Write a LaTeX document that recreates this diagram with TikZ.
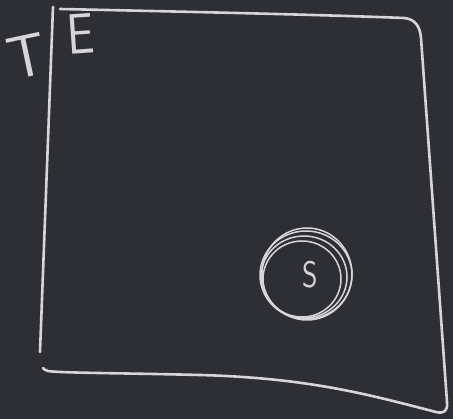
\documentclass[tikz,border=0pt]{standalone}
\definecolor{board}{RGB}{46,47,52}
\definecolor{chalkc}{RGB}{214,214,218}
\begin{document}
\begin{tikzpicture}[x=1pt,y=-1pt,
  chalk/.style={draw=chalkc, line width=2.6pt, line cap=round, line join=round},
  loop/.style={draw=chalkc, line width=1.5pt},
  chalktext/.style={text=chalkc, inner sep=0pt}]
\fill[board] (0,0) rectangle (453,419);
\useasboundingbox (0,0) rectangle (453,419);
% separator line
\coordinate (sepTop) at (53,7);
\coordinate (sepBot) at (40,352);
\draw[chalk] (sepTop) -- (sepBot);
% frame
\coordinate (tl) at (60,9);
\coordinate (tr) at (421,38);
\coordinate (br) at (447,402);
\coordinate (bl) at (43,368);
\draw[chalk] (tl) .. controls (200,12) and (330,15) .. (404,18)
  .. controls (414,19) and (420,25) .. (tr)
  -- (br) .. controls (448,411) and (444,414) .. (436,412)
  .. controls (370,395) and (310,378) .. (200,375)
  .. controls (120,373) and (60,373) .. (48,371)
  .. controls (45,370) and (43,369) .. (bl);
% letters
\node[chalktext, rotate=12, font=\fontfamily{lmss}\fontseries{m}\fontsize{60}{60}\selectfont] (T) at (27,56) {T};
\node[chalktext, rotate=4, xscale=0.85, font=\fontfamily{lmss}\fontseries{m}\fontsize{57}{57}\selectfont] (E) at (81,34) {E};
% circled S
\node[chalktext, xscale=0.8, font=\fontfamily{lmss}\fontseries{m}\fontsize{37}{37}\selectfont] (S) at (310,275) {S};
\draw[loop] (306,275) ellipse [x radius=46, y radius=44];
\draw[loop] (304,277) ellipse [x radius=43, y radius=41];
\draw[loop] (307,274) ellipse [x radius=45, y radius=46];
\draw[loop] (302,279) ellipse [x radius=39, y radius=38];
\end{tikzpicture}
\end{document}
